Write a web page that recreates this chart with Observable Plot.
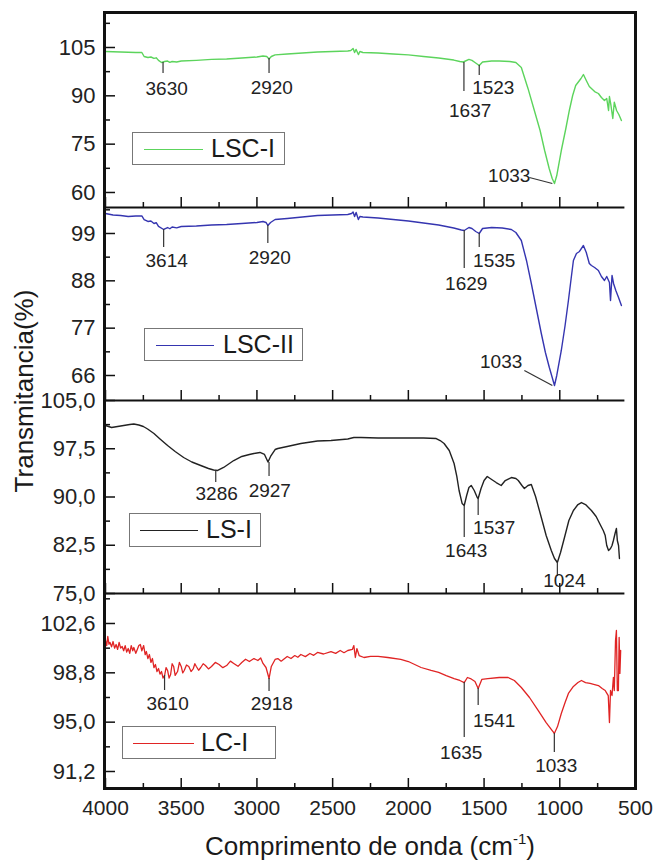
<!DOCTYPE html>
<html><head><meta charset="utf-8">
<script src="https://cdn.jsdelivr.net/npm/d3@7"></script>
<script src="https://cdn.jsdelivr.net/npm/@observablehq/plot@0.6"></script>
<style>
body{margin:0;background:#fff;}
#wrap{position:relative;width:653px;height:863px;font-family:"Liberation Sans",Arial,sans-serif;color:#222;overflow:hidden;background:#fff}
.panel{position:absolute;left:0}
.frame{position:absolute;left:103px;top:11px;width:534px;height:779px;border:3px solid #111;box-sizing:border-box;pointer-events:none}
.legend{position:absolute;border:1.5px solid #777;box-sizing:border-box}
.legend .ln{position:absolute;height:0;border-top:1.3px solid}
.legend .tx{position:absolute;font-size:25px;line-height:1;color:#1a1a1a;white-space:nowrap}
.ytitle{position:absolute;left:24px;top:391px;transform:translate(-50%,-50%) rotate(-90deg);font-size:26px;white-space:nowrap;color:#1a1a1a}
.xtitle{position:absolute;left:370px;top:832px;transform:translateX(-50%);font-size:26px;white-space:nowrap;color:#1a1a1a;line-height:1.1}
.xtitle sup{font-size:15px;vertical-align:11px;line-height:0}
</style></head>
<body><div id="wrap"></div>
<script>
// ---------- data ----------
const xMajor = [4000, 3500, 3000, 2500, 2000, 1500, 1000, 500];
const xMinor = [3750, 3250, 2750, 2250, 1750, 1250, 750];

const seriesNames = ["LSC-I", "LSC-II", "LS-I", "LC-I"];

const lscI = [[4000,103.76],[3900,103.6],[3800,103.45],[3760,103.45],[3745,102.2],[3720,101.9],[3700,102.05],[3680,101.6],[3665,101.8],[3650,101.0],[3630,100.35],[3610,100.65],[3590,100.8],[3575,100.4],[3560,100.65],[3530,100.5],[3500,100.8],[3400,101.0],[3300,101.3],[3200,101.45],[3100,101.75],[3000,102.05],[2960,102.35],[2935,102.2],[2920,101.45],[2905,102.2],[2880,102.7],[2800,103.0],[2700,103.3],[2600,103.6],[2500,103.76],[2400,103.9],[2380,104.07],[2365,104.7],[2355,103.45],[2345,104.4],[2330,102.8],[2320,103.76],[2300,103.45],[2200,103.3],[2100,103.0],[2000,102.7],[1900,102.2],[1800,101.75],[1700,101.1],[1660,100.65],[1637,100.5],[1600,101.3],[1580,101.0],[1560,100.35],[1532,99.41],[1510,100.5],[1450,100.8],[1400,100.8],[1330,100.65],[1290,100.35],[1254,98.8],[1210,92.3],[1168,85.45],[1130,79.24],[1100,73.03],[1070,67.45],[1050,64.35],[1035,62.79],[1020,65.27],[990,73.03],[960,79.86],[937,85.45],[915,90.1],[895,93.2],[860,95.38],[844,96.62],[825,94.76],[805,92.9],[791,92.27],[770,91.34],[745,90.72],[725,89.48],[705,88.55],[690,89.17],[678,85.45],[672,89.79],[662,87.0],[650,82.96],[640,88.0],[625,85.45],[610,84.2],[593,82.34]];

const lscII = [[4000,103.65],[3950,103.3],[3900,103.18],[3850,102.95],[3800,103.07],[3760,103.07],[3745,102.25],[3720,101.79],[3700,101.9],[3680,101.32],[3665,101.5],[3650,100.63],[3616,99.93],[3590,100.39],[3575,100.1],[3560,100.51],[3530,100.3],[3500,100.63],[3400,100.74],[3300,100.98],[3200,101.09],[3100,101.32],[3000,101.56],[2960,101.79],[2940,101.56],[2928,100.86],[2910,101.56],[2880,102.25],[2800,102.49],[2700,102.83],[2600,103.18],[2500,103.3],[2400,103.42],[2375,103.65],[2365,104.0],[2355,102.95],[2345,103.88],[2330,102.25],[2320,102.95],[2300,102.83],[2200,102.6],[2100,102.25],[2000,101.9],[1900,101.44],[1800,100.98],[1700,100.28],[1650,99.81],[1631,99.7],[1600,100.39],[1580,100.16],[1555,99.46],[1532,99.0],[1510,100.16],[1450,100.39],[1380,100.28],[1320,99.93],[1290,99.23],[1254,97.37],[1220,92.73],[1188,87.38],[1155,81.57],[1122,75.76],[1095,71.34],[1069,67.86],[1050,65.54],[1035,63.68],[1020,66.0],[990,71.81],[965,77.62],[943,83.43],[925,88.54],[910,92.73],[890,94.35],[870,94.82],[844,96.21],[825,94.58],[805,92.03],[791,91.56],[770,91.1],[745,90.4],[725,89.01],[705,88.08],[690,89.01],[672,87.61],[665,83.43],[655,89.24],[645,87.38],[630,85.75],[612,84.13],[593,82.27]];

const lsI = [[4000,101.11],[3960,100.8],[3920,100.96],[3880,101.11],[3840,101.27],[3813,101.35],[3780,101.19],[3750,100.96],[3722,100.57],[3680,99.87],[3640,99.02],[3590,98.0],[3540,97.07],[3484,96.14],[3430,95.44],[3371,94.9],[3320,94.43],[3286,94.2],[3259,94.12],[3220,94.59],[3153,95.67],[3100,96.3],[3050,96.61],[3020,96.76],[2980,96.92],[2950,96.61],[2927,95.44],[2910,96.3],[2880,97.38],[2862,97.54],[2800,97.85],[2710,98.32],[2600,98.7],[2511,98.78],[2400,99.02],[2360,99.25],[2313,99.25],[2200,99.17],[2100,99.17],[2000,99.17],[1900,99.17],[1816,99.09],[1790,98.78],[1764,98.32],[1730,97.23],[1698,95.21],[1680,93.19],[1665,91.01],[1645,89.0],[1631,88.68],[1615,90.23],[1600,91.48],[1585,91.79],[1565,91.01],[1545,89.92],[1539,89.77],[1520,91.32],[1500,92.56],[1479,93.19],[1450,92.72],[1420,92.25],[1387,91.79],[1360,92.56],[1320,93.03],[1290,92.87],[1274,92.56],[1250,91.79],[1234,91.32],[1210,91.79],[1188,91.94],[1160,90.08],[1122,86.81],[1090,84.01],[1056,81.68],[1035,80.44],[1016,79.82],[995,81.37],[969,83.7],[940,86.35],[910,87.9],[880,88.83],[857,89.14],[830,88.83],[791,87.9],[760,86.97],[730,85.57],[713,84.79],[700,84.01],[690,82.46],[678,81.68],[665,81.99],[655,82.46],[646,83.24],[635,84.33],[626,85.1],[620,83.24],[612,82.46],[606,80.44]];

const lcI = [[4000,101.29],[3992,100.9],[3985,101.6],[3977,101.0],[3970,101.14],[3960,100.8],[3950,101.21],[3940,100.7],[3930,100.98],[3920,100.6],[3910,101.14],[3900,100.7],[3890,100.83],[3880,100.5],[3870,100.9],[3860,100.4],[3850,100.67],[3840,100.3],[3830,100.9],[3820,100.5],[3813,100.75],[3800,100.3],[3790,100.6],[3780,100.9],[3770,100.98],[3760,100.5],[3748,100.9],[3738,100.2],[3730,100.44],[3720,99.9],[3710,100.21],[3700,99.6],[3690,99.9],[3680,99.2],[3670,99.44],[3660,98.9],[3650,99.13],[3640,98.7],[3630,98.9],[3620,98.4],[3610,98.59],[3600,99.2],[3590,98.98],[3580,98.4],[3570,98.67],[3560,99.5],[3550,99.29],[3540,98.6],[3524,98.9],[3512,99.6],[3500,99.29],[3490,98.8],[3480,98.98],[3465,99.4],[3450,99.29],[3435,98.9],[3420,99.13],[3410,99.5],[3400,99.29],[3385,99.0],[3371,99.21],[3355,99.5],[3340,99.36],[3320,99.1],[3300,99.29],[3275,99.6],[3250,99.44],[3225,99.2],[3200,99.36],[3175,99.7],[3153,99.52],[3125,99.3],[3100,99.6],[3075,99.85],[3050,99.67],[3020,99.9],[2994,99.75],[2975,99.95],[2960,99.52],[2940,99.21],[2920,98.36],[2905,99.29],[2880,99.83],[2862,99.9],[2840,99.7],[2800,100.06],[2775,99.9],[2750,100.13],[2730,100.0],[2710,100.21],[2680,100.05],[2650,100.29],[2625,100.15],[2600,100.37],[2560,100.25],[2511,100.44],[2480,100.3],[2450,100.52],[2425,100.35],[2400,100.52],[2370,100.6],[2360,100.9],[2350,99.98],[2340,100.67],[2325,100.13],[2293,99.98],[2250,100.06],[2200,100.06],[2136,99.98],[2050,99.83],[2000,99.67],[1916,99.21],[1850,98.98],[1800,98.83],[1750,98.59],[1698,98.36],[1660,98.21],[1631,98.05],[1610,98.44],[1590,98.36],[1560,98.13],[1539,97.59],[1515,98.29],[1475,98.36],[1400,98.44],[1341,98.44],[1300,98.21],[1254,97.67],[1200,96.9],[1143,95.9],[1090,94.97],[1060,94.51],[1036,94.13],[1015,94.66],[990,95.67],[965,96.51],[943,97.21],[910,97.75],[880,98.05],[857,98.21],[830,98.05],[800,97.98],[770,97.9],[745,97.82],[720,97.59],[700,97.44],[692,97.28],[680,97.05],[672,94.97],[665,97.44],[655,97.05],[646,98.44],[640,97.44],[632,101.29],[626,102.06],[620,97.44],[613,97.44],[608,101.52],[603,98.75],[598,100.52]];

// peak annotations: leader at w from v1 to v2, label at (lw, lv)
const lscIPeaks = [
  {label:"3630", w:3620, v1:100.35, v2:96.93, lw:3596, lv:92.27},
  {label:"2920", w:2920, v1:101.59, v2:96.93, lw:2902, lv:92.59},
  {label:"1637", w:1633, v1:100.35, v2:91.34, lw:1592, lv:85.45},
  {label:"1523", w:1532, v1:99.41, v2:96.31, lw:1439, lv:92.59},
  {label:"1033", lw:1334, lv:65.27}
];
const lscIIPeaks = [
  {label:"3614", w:3616, v1:99.93, v2:95.75, lw:3596, lv:92.73},
  {label:"2920", w:2928, v1:100.86, v2:96.68, lw:2915, lv:93.42},
  {label:"1629", w:1631, v1:99.70, v2:90.87, lw:1618, lv:87.38},
  {label:"1535", w:1532, v1:99.0, v2:95.75, lw:1433, lv:92.73},
  {label:"1033", lw:1387, lv:69.25}
];
const lsIPeaks = [
  {label:"3286", w:3272, v1:94.12, v2:92.25, lw:3266, lv:90.54},
  {label:"2927", w:2920, v1:95.36, v2:93.19, lw:2915, lv:91.01},
  {label:"1643", w:1631, v1:88.68, v2:83.70, lw:1618, lv:81.68},
  {label:"1537", w:1539, v1:89.77, v2:87.12, lw:1433, lv:85.26},
  {label:"1024", w:1016, v1:79.82, v2:77.64, lw:970, lv:77.02}
];
const lcIPeaks = [
  {label:"3610", w:3610, v1:98.59, v2:97.44, lw:3590, lv:96.44},
  {label:"2918", w:2920, v1:98.36, v2:97.36, lw:2902, lv:96.44},
  {label:"1635", w:1631, v1:98.05, v2:93.82, lw:1651, lv:92.66},
  {label:"1541", w:1539, v1:97.59, v2:96.28, lw:1433, lv:95.13},
  {label:"1033", w:1036, v1:94.13, v2:92.66, lw:1023, lv:91.66}
];
// diagonal leaders for 1033 in the two top panels
const lscIDiag = [{x1:1201, y1:64.65, x2:1049, y2:62.79}];
const lscIIDiag = [{x1:1234, y1:67.16, x2:1049, y2:63.67}];

// ---------- layout ----------
const panels = [
  {name:seriesNames[0], data:lscI, peaks:lscIPeaks, diag:lscIDiag, color:"#5cd45c", sw:1.4, top:13, bottom:207,
   domain:[55.34,115.55], major:[60,75,90,105], minor:[67.5,82.5,97.5,112.5], fmt:d=>String(d),
   legend:{left:132, top:132, w:153, h:33, l1:11, l2:70, tx:78}},
  {name:seriesNames[1], data:lscII, peaks:lscIIPeaks, diag:lscIIDiag, color:"#3535b0", sw:1.4, top:207, bottom:400,
   domain:[60.19,105.04], major:[66,77,88,99], minor:[71.5,82.5,93.5,104.5], fmt:d=>String(d),
   legend:{left:144, top:328, w:159, h:33, l1:11, l2:69, tx:78}},
  {name:seriesNames[2], data:lsI, peaks:lsIPeaks, diag:[], color:"#222222", sw:1.4, top:400, bottom:593,
   domain:[75,105], major:[75,82.5,90,97.5,105], minor:[78.75,86.25,93.75,101.25], fmt:d=>d.toFixed(1).replace(".", ","),
   legend:{left:129, top:513, w:132, h:34, l1:10, l2:68, tx:76}},
  {name:seriesNames[3], data:lcI, peaks:lcIPeaks, diag:[], color:"#e02424", sw:1.3, top:593, bottom:788,
   domain:[89.89,104.91], major:[91.2,95,98.8,102.6], minor:[93.1,96.9,100.7,104.5], fmt:d=>d.toFixed(1).replace(".", ","),
   legend:{left:122, top:726, w:154, h:33, l1:10, l2:71, tx:78}}
];

const wrap = document.getElementById("wrap");
const ML = 105, MR = 18, W = 653, BOTTOM_EXTRA = 75;

panels.forEach((p, i) => {
  const last = i === panels.length - 1;
  const h = p.bottom - p.top + (last ? BOTTOM_EXTRA : 0);
  const marks = [
    Plot.axisY({ticks:p.major, tickSize:0, tickPadding:10, tickFormat:p.fmt, fontSize:22, label:null, fill:"#222"}),
    Plot.axisY({ticks:p.major, tickSize:-10, text:null, label:null, strokeWidth:1.5, stroke:"#111"}),
    Plot.axisY({ticks:p.minor, tickSize:-5, text:null, label:null, strokeWidth:1.5, stroke:"#111"}),
    Plot.axisX({ticks:xMajor, tickSize:-10, text:null, label:null, strokeWidth:1.5, stroke:"#111"}),
    Plot.axisX({ticks:xMinor, tickSize:-5, text:null, label:null, strokeWidth:1.5, stroke:"#111"}),
    Plot.line(p.data, {x:d=>d[0], y:d=>d[1], stroke:p.color, strokeWidth:p.sw}),
    Plot.ruleX(p.peaks.filter(d=>d.w!=null), {x:"w", y1:"v1", y2:"v2", stroke:"#333", strokeWidth:1.2}),
    Plot.link(p.diag, {x1:"x1", y1:"y1", x2:"x2", y2:"y2", stroke:"#333", strokeWidth:1.2}),
    Plot.text(p.peaks, {x:"lw", y:"lv", text:"label", fontSize:19, lineAnchor:"middle", textAnchor:"middle", fill:"#222"})
  ];
  if (!last) {
    marks.push(Plot.ruleY([p.domain[0]], {x1:4000, x2:570, stroke:"#111", strokeWidth:2.2}));
  } else {
    marks.push(Plot.axisX({ticks:xMajor, tickSize:0, tickPadding:12, fontSize:21, label:null, tickFormat:d=>String(d), fill:"#222"}));
  }
  const chart = Plot.plot({
    width: W, height: h,
    marginLeft: ML, marginRight: MR, marginTop: 0, marginBottom: last ? BOTTOM_EXTRA : 0,
    x: {domain:[4000, 500]},
    y: {domain:p.domain},
    style: {overflow:"visible", background:"transparent", fontFamily:'"Liberation Sans", Arial, sans-serif', color:"#222"},
    marks
  });
  const div = document.createElement("div");
  div.className = "panel";
  div.style.top = p.top + "px";
  div.appendChild(chart);
  wrap.appendChild(div);

  // legend box
  const lg = document.createElement("div");
  lg.className = "legend";
  lg.style.left = p.legend.left + "px";
  lg.style.top = p.legend.top + "px";
  lg.style.width = p.legend.w + "px";
  lg.style.height = p.legend.h + "px";
  const ln = document.createElement("div");
  ln.className = "ln";
  ln.style.left = p.legend.l1 + "px";
  ln.style.width = (p.legend.l2 - p.legend.l1) + "px";
  ln.style.top = (p.legend.h / 2 - 1) + "px";
  ln.style.borderTopColor = p.color;
  const tx = document.createElement("div");
  tx.className = "tx";
  tx.style.left = p.legend.tx + "px";
  tx.style.top = (p.legend.h / 2 - 14) + "px";
  tx.textContent = p.name;
  lg.appendChild(ln); lg.appendChild(tx);
  wrap.appendChild(lg);
});

const fr = document.createElement("div");
fr.className = "frame";
wrap.appendChild(fr);

const yt = document.createElement("div");
yt.className = "ytitle";
yt.textContent = "Transmitancia(%)";
wrap.appendChild(yt);

const xt = document.createElement("div");
xt.className = "xtitle";
xt.innerHTML = "Comprimento de onda (cm<sup>-1</sup>)";
wrap.appendChild(xt);
</script>
</body></html>
